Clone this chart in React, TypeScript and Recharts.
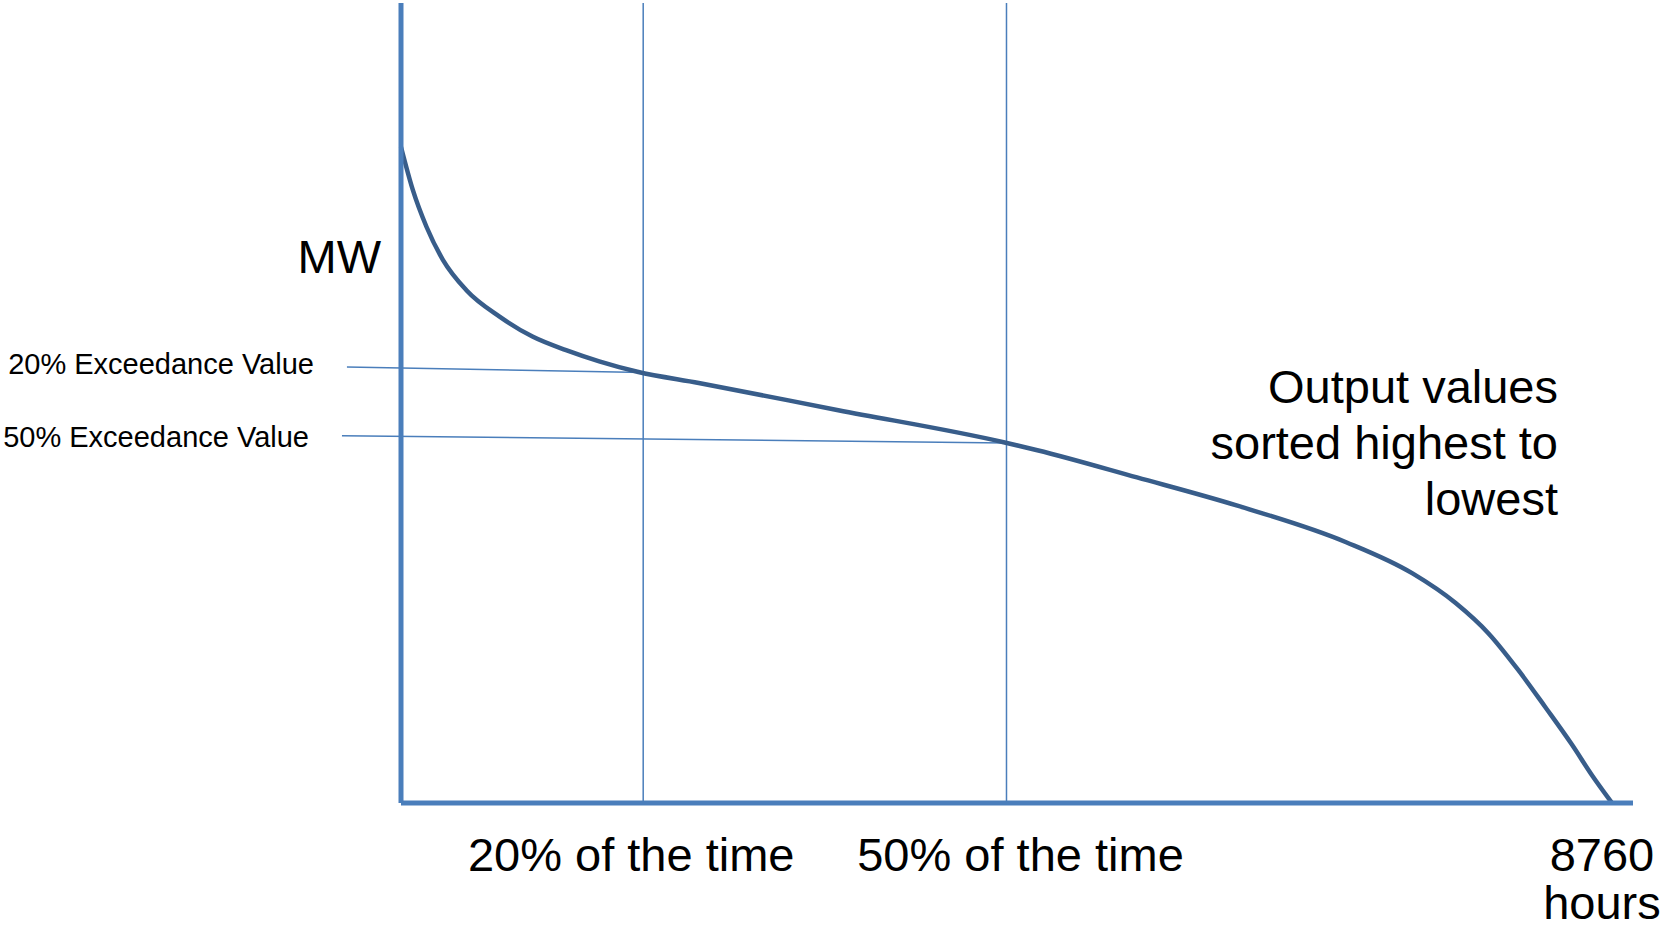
import React from 'react';
import { ComposedChart, Line, XAxis, YAxis, ReferenceLine, Customized } from 'recharts';

// duration curve: hours of the year vs output, sorted high -> low
const hours = [0, 86, 185, 303, 473, 713, 951, 1194, 1434, 1710, 2154, 3163, 4359, 4603, 5324, 6044, 6837, 7317, 7629, 7867, 8083, 8277, 8470, 8614, 8760];
const output = [82, 76.6, 72.0, 67.9, 64.1, 60.8, 58.3, 56.6, 55.2, 53.9, 52.5, 49.1, 45.1, 44.1, 40.7, 37.2, 32.6, 28.7, 25.0, 21.2, 16.6, 12.0, 7.3, 3.5, 0];

const exceedanceHours = [1752, 4380];
const exceedanceValues = [53.8, 45.0];
const exceedanceLabels = ['20% Exceedance Value', '50% Exceedance Value'];

const tickValues = [1752, 4380, 8760];
const tickLabels = [['20% of the time'], ['50% of the time'], ['8760', 'hours']];

const data = hours.map((h, i) => ({ h, mw: output[i] }));

// leader lines start left of the y axis (in data units)
const leaderStart = [
  { h: -391, mw: 54.5, dy: 7 },
  { h: -427, mw: 45.9, dy: 11 },
];
const tickDx = [-12, 14, -10];

const FONT = '"Liberation Sans", Arial, sans-serif';
const AXIS = '#4A7EBB';
const CURVE = '#385D8A';

const XTick = (props: any) => {
  const { x, y, payload, index } = props;
  const lines = tickLabels[tickValues.indexOf(payload.value)] || [];
  const tx = x + (tickDx[index] || 0);
  return (
    <text x={tx} y={y + 68} textAnchor="middle" fontFamily={FONT} fontSize={47} fill="#000">
      {lines.map((l, i) => (
        <tspan key={i} x={tx} dy={i === 0 ? 0 : 48}>{l}</tspan>
      ))}
    </text>
  );
};

const leaderLabel = (text: string, dy: number) => (props: any) => {
  const vb = props.viewBox || {};
  const x = vb.x1 ?? vb.x;
  const y = vb.y1 ?? vb.y;
  return (
    <text x={x - 33} y={y + dy} textAnchor="end" fontFamily={FONT} fontSize={29} fill="#000">
      {text}
    </text>
  );
};

const Notes = () => (
  <g fontFamily={FONT} fontSize={47} fill="#000">
    <text x={381} y={273} textAnchor="end">MW</text>
    <text textAnchor="end">
      <tspan x={1558} y={403}>Output values</tspan>
      <tspan x={1558} y={459}>sorted highest to</tspan>
      <tspan x={1558} y={515}>lowest</tspan>
    </text>
  </g>
);

export default function App() {
  return (
    <div style={{ position: 'absolute', left: 0, top: 0, background: '#fff' }}>
      <ComposedChart width={1665} height={930} data={data} margin={{ top: 3, right: 32, left: 400, bottom: 126 }}>
        <XAxis
          dataKey="h"
          type="number"
          domain={[0, 8912]}
          ticks={tickValues}
          height={1}
          tickSize={0}
          tickMargin={0}
          tickLine={false}
          tick={<XTick />}
          axisLine={{ stroke: AXIS, strokeWidth: 5 }}
          interval={0}
        />
        <YAxis
          type="number"
          domain={[0, 100]}
          width={1}
          tick={false}
          tickLine={false}
          axisLine={{ stroke: AXIS, strokeWidth: 5 }}
        />
        {exceedanceHours.map((h) => (
          <ReferenceLine key={'v' + h} x={h} stroke={AXIS} strokeWidth={1.5} ifOverflow="visible" />
        ))}
        {exceedanceHours.map((h, i) => (
          <ReferenceLine
            key={'l' + h}
            segment={[
              { x: leaderStart[i].h, y: leaderStart[i].mw },
              { x: h, y: exceedanceValues[i] },
            ]}
            stroke={AXIS}
            strokeWidth={1.5}
            ifOverflow="visible"
            label={leaderLabel(exceedanceLabels[i], leaderStart[i].dy)}
          />
        ))}
        <Line
          dataKey="mw"
          type="monotone"
          stroke={CURVE}
          strokeWidth={4.5}
          dot={false}
          activeDot={false}
          isAnimationActive={false}
        />
        <Customized component={<Notes />} />
      </ComposedChart>
    </div>
  );
}
